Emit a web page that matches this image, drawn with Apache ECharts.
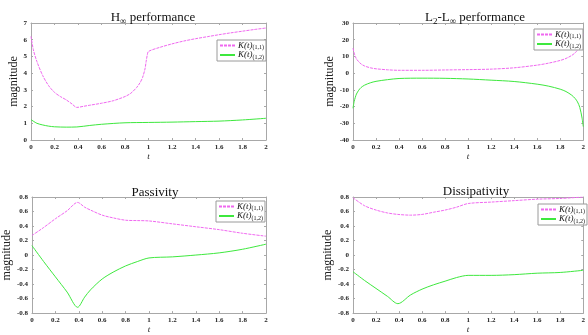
<!DOCTYPE html>
<html>
<head>
<meta charset="utf-8">
<script src="https://cdn.jsdelivr.net/npm/echarts@6/dist/echarts.min.js"></script>
<style>html,body{margin:0;padding:0;background:#fff;}#c{width:588px;height:335px;}</style>
</head>
<body>
<div id="c"></div>
<script>
// ---- Data ----
const titles = ['H∞ performance', 'L2-L∞ performance', 'Passivity', 'Dissipativity'];
const seriesNames = ['K(t)(1,1)', 'K(t)(1,2)'];

// H-infinity performance
const tH11 = [0, 0.02, 0.05, 0.1, 0.15, 0.2, 0.25, 0.3, 0.35, 0.39, 0.45, 0.5, 0.6, 0.7, 0.8, 0.85, 0.9, 0.93, 0.95, 0.97, 0.98, 0.99, 1.0, 1.1, 1.2, 1.3, 1.4, 1.5, 1.6, 1.7, 1.8, 1.9, 2.0];
const vH11 = [6.2, 5.4, 4.7, 3.85, 3.25, 2.85, 2.6, 2.4, 2.15, 1.95, 2.02, 2.08, 2.2, 2.35, 2.6, 2.8, 3.15, 3.45, 3.75, 4.25, 4.7, 5.1, 5.3, 5.55, 5.75, 5.92, 6.06, 6.18, 6.3, 6.41, 6.51, 6.61, 6.7];
const tH12 = [0, 0.05, 0.1, 0.15, 0.2, 0.3, 0.39, 0.5, 0.6, 0.8, 1.0, 1.2, 1.4, 1.6, 1.8, 2.0];
const vH12 = [1.22, 1.0, 0.9, 0.83, 0.79, 0.77, 0.78, 0.87, 0.94, 1.03, 1.05, 1.07, 1.1, 1.13, 1.2, 1.3];

// L2-L-infinity performance
const tL = [0, 0.01, 0.02, 0.03, 0.05, 0.07, 0.1, 0.15, 0.2, 0.3, 0.4, 0.6, 0.8, 1.0, 1.2, 1.4, 1.6, 1.7, 1.8, 1.85, 1.9, 1.93, 1.95, 1.97, 1.99, 2.0];
const vL11 = [15, 12, 10, 8.5, 6.8, 5.5, 4.3, 3.2, 2.6, 2.0, 1.7, 1.7, 1.9, 2.1, 2.4, 3.2, 4.8, 6.0, 7.6, 8.8, 10.6, 12.2, 13.8, 16.2, 20.5, 23.5];
const vL12 = [-21, -17, -14.5, -12.5, -10.2, -8.6, -7.2, -5.8, -4.9, -3.9, -3.2, -3.0, -3.1, -3.5, -4.2, -5.0, -6.6, -7.8, -9.6, -11.0, -13.2, -15.2, -17.2, -20.5, -27, -32];

// Passivity
const tP = [0, 0.1, 0.2, 0.3, 0.39, 0.45, 0.5, 0.6, 0.7, 0.8, 0.9, 1.0, 1.2, 1.4, 1.6, 1.8, 2.0];
const vP11 = [0.27, 0.38, 0.5, 0.61, 0.725, 0.66, 0.62, 0.55, 0.51, 0.48, 0.475, 0.47, 0.43, 0.39, 0.35, 0.3, 0.26];
const vP12 = [0.13, -0.09, -0.3, -0.51, -0.72, -0.58, -0.48, -0.33, -0.23, -0.15, -0.09, -0.04, -0.025, 0.0, 0.03, 0.08, 0.15];

// Dissipativity
const tD = [0, 0.1, 0.2, 0.3, 0.39, 0.5, 0.6, 0.7, 0.8, 0.9, 1.0, 1.2, 1.4, 1.6, 1.8, 2.0];
const vD11 = [0.79, 0.68, 0.62, 0.58, 0.56, 0.55, 0.56, 0.59, 0.62, 0.66, 0.71, 0.73, 0.75, 0.77, 0.78, 0.8];
const vD12 = [-0.23, -0.35, -0.46, -0.57, -0.67, -0.55, -0.47, -0.41, -0.36, -0.31, -0.28, -0.28, -0.27, -0.25, -0.24, -0.21];

const yMins = [0, -40, -0.8, -0.8];
const yMaxs = [7, 30, 0.8, 0.8];
const yIntervals = [1, 10, 0.2, 0.2];

// ---- Layout ----
const grids = [
  {left: 31, top: 23, width: 235, height: 117},
  {left: 353, top: 23, width: 235, height: 117},
  {left: 31, top: 197, width: 235, height: 121},
  {left: 353, top: 197, width: 235, height: 121}
];
const titlePos = [[148, 4], [470, 4], [150, 181], [471, 180]];
const legendPos = [[217, 40], [534, 29], [216, 201], [538, 204]];
const yNameGap = [6, 12, 6, 12];

const pair = (t, v) => t.map((x, i) => [x, v[i]]);
const data = [
  [pair(tH11, vH11), pair(tH12, vH12)],
  [pair(tL, vL11), pair(tL, vL12)],
  [pair(tP, vP11), pair(tP, vP12)],
  [pair(tD, vD11), pair(tD, vD12)]
];

const serif = '"Liberation Serif", "DejaVu Serif", serif';
const axisCol = '#a8a8a8';
const MAG = '#f068f0', GRN = '#3ee83e';

const titleRich = {
  n: {fontFamily: serif, fontSize: 13, fontWeight: 'normal', color: '#111'},
  s: {fontFamily: serif, fontSize: 9, fontWeight: 'normal', color: '#111', verticalAlign: 'bottom', padding: [8, 0, 0, 0]}
};
const titleTexts = [
  '{n|H}{s|∞}{n| performance}',
  '{n|L}{s|2}{n|-L}{s|∞}{n| performance}',
  '{n|Passivity}',
  '{n|Dissipativity}'
];

const option = {
  animation: false,
  backgroundColor: '#fff',
  title: titleTexts.map((t, i) => ({
    text: t, left: titlePos[i][0], top: titlePos[i][1], textAlign: 'center',
    textStyle: {fontWeight: 'normal', rich: titleRich}
  })),
  grid: grids.map(g => Object.assign({containLabel: false}, g)),
  legend: legendPos.map((p, i) => ({
    data: seriesNames.map(n => n + '#' + i),
    left: p[0], top: p[1], orient: 'vertical',
    backgroundColor: '#fff', borderColor: '#9a9a9a', borderWidth: 1,
    padding: [1, 2, 1, 2], itemGap: 0, itemWidth: 15, itemHeight: 8,
    itemStyle: {opacity: 0},
    formatter: name => {
      const base = name.split('#')[0];
      return '{k|K(t)}{s|' + base.slice(4) + '}';
    },
    textStyle: {
      padding: [0, 0, 0, -2],
      rich: {
        k: {fontFamily: serif, fontStyle: 'italic', fontSize: 9, color: '#111'},
        s: {fontFamily: serif, fontSize: 6, color: '#111', padding: [4, 0, 0, 0]}
      }
    }
  })),
  xAxis: [],
  yAxis: [],
  series: []
};

for (let i = 0; i < 4; i++) {
  const common = {min: 0, max: 2, interval: 0.2, gridIndex: i, type: 'value'};
  option.xAxis.push(Object.assign({}, common, {
    position: 'bottom',
    name: 't', nameLocation: 'middle', nameGap: 11,
    nameTextStyle: {fontFamily: serif, fontStyle: 'italic', fontSize: 9, color: '#222'},
    axisLine: {show: true, onZero: false, lineStyle: {color: axisCol, width: 1}},
    axisTick: {inside: true, length: 2, lineStyle: {color: axisCol}},
    axisLabel: {fontFamily: serif, fontWeight: 'bold', fontSize: 7, color: '#222', margin: 4},
    splitLine: {show: false}
  }));
  option.xAxis.push(Object.assign({}, common, {
    position: 'top',
    axisLine: {show: true, onZero: false, lineStyle: {color: axisCol, width: 1}},
    axisTick: {inside: true, length: 2, lineStyle: {color: axisCol}},
    axisLabel: {show: false}, splitLine: {show: false}
  }));
  const ycommon = {min: yMins[i], max: yMaxs[i], interval: yIntervals[i], gridIndex: i, type: 'value'};
  option.yAxis.push(Object.assign({}, ycommon, {
    position: 'left',
    name: 'magnitude', nameLocation: 'middle', nameGap: yNameGap[i], nameRotate: 90,
    nameTextStyle: {fontFamily: serif, fontSize: 12, color: '#222'},
    axisLine: {show: true, onZero: false, lineStyle: {color: axisCol, width: 1}},
    axisTick: {inside: true, length: 2, lineStyle: {color: axisCol}},
    axisLabel: {fontFamily: serif, fontWeight: 'bold', fontSize: 7, color: '#222', margin: 4},
    splitLine: {show: false}
  }));
  option.yAxis.push(Object.assign({}, ycommon, {
    position: 'right',
    axisLine: {show: true, onZero: false, lineStyle: {color: axisCol, width: 1}},
    axisTick: {inside: true, length: 2, lineStyle: {color: axisCol}},
    axisLabel: {show: false}, splitLine: {show: false}
  }));
  option.series.push({
    type: 'line', name: seriesNames[0] + '#' + i, xAxisIndex: 2 * i, yAxisIndex: 2 * i,
    data: data[i][0], symbol: 'none', smooth: 0.3, clip: true,
    lineStyle: {color: MAG, width: 1, type: [3, 1]}, itemStyle: {color: MAG}
  });
  option.series.push({
    type: 'line', name: seriesNames[1] + '#' + i, xAxisIndex: 2 * i, yAxisIndex: 2 * i,
    data: data[i][1], symbol: 'none', smooth: 0.3, clip: true,
    lineStyle: {color: GRN, width: 1}, itemStyle: {color: GRN}
  });
}

const chart = echarts.init(document.getElementById('c'), null, {renderer: 'canvas'});
chart.setOption(option);
</script>
</body>
</html>
